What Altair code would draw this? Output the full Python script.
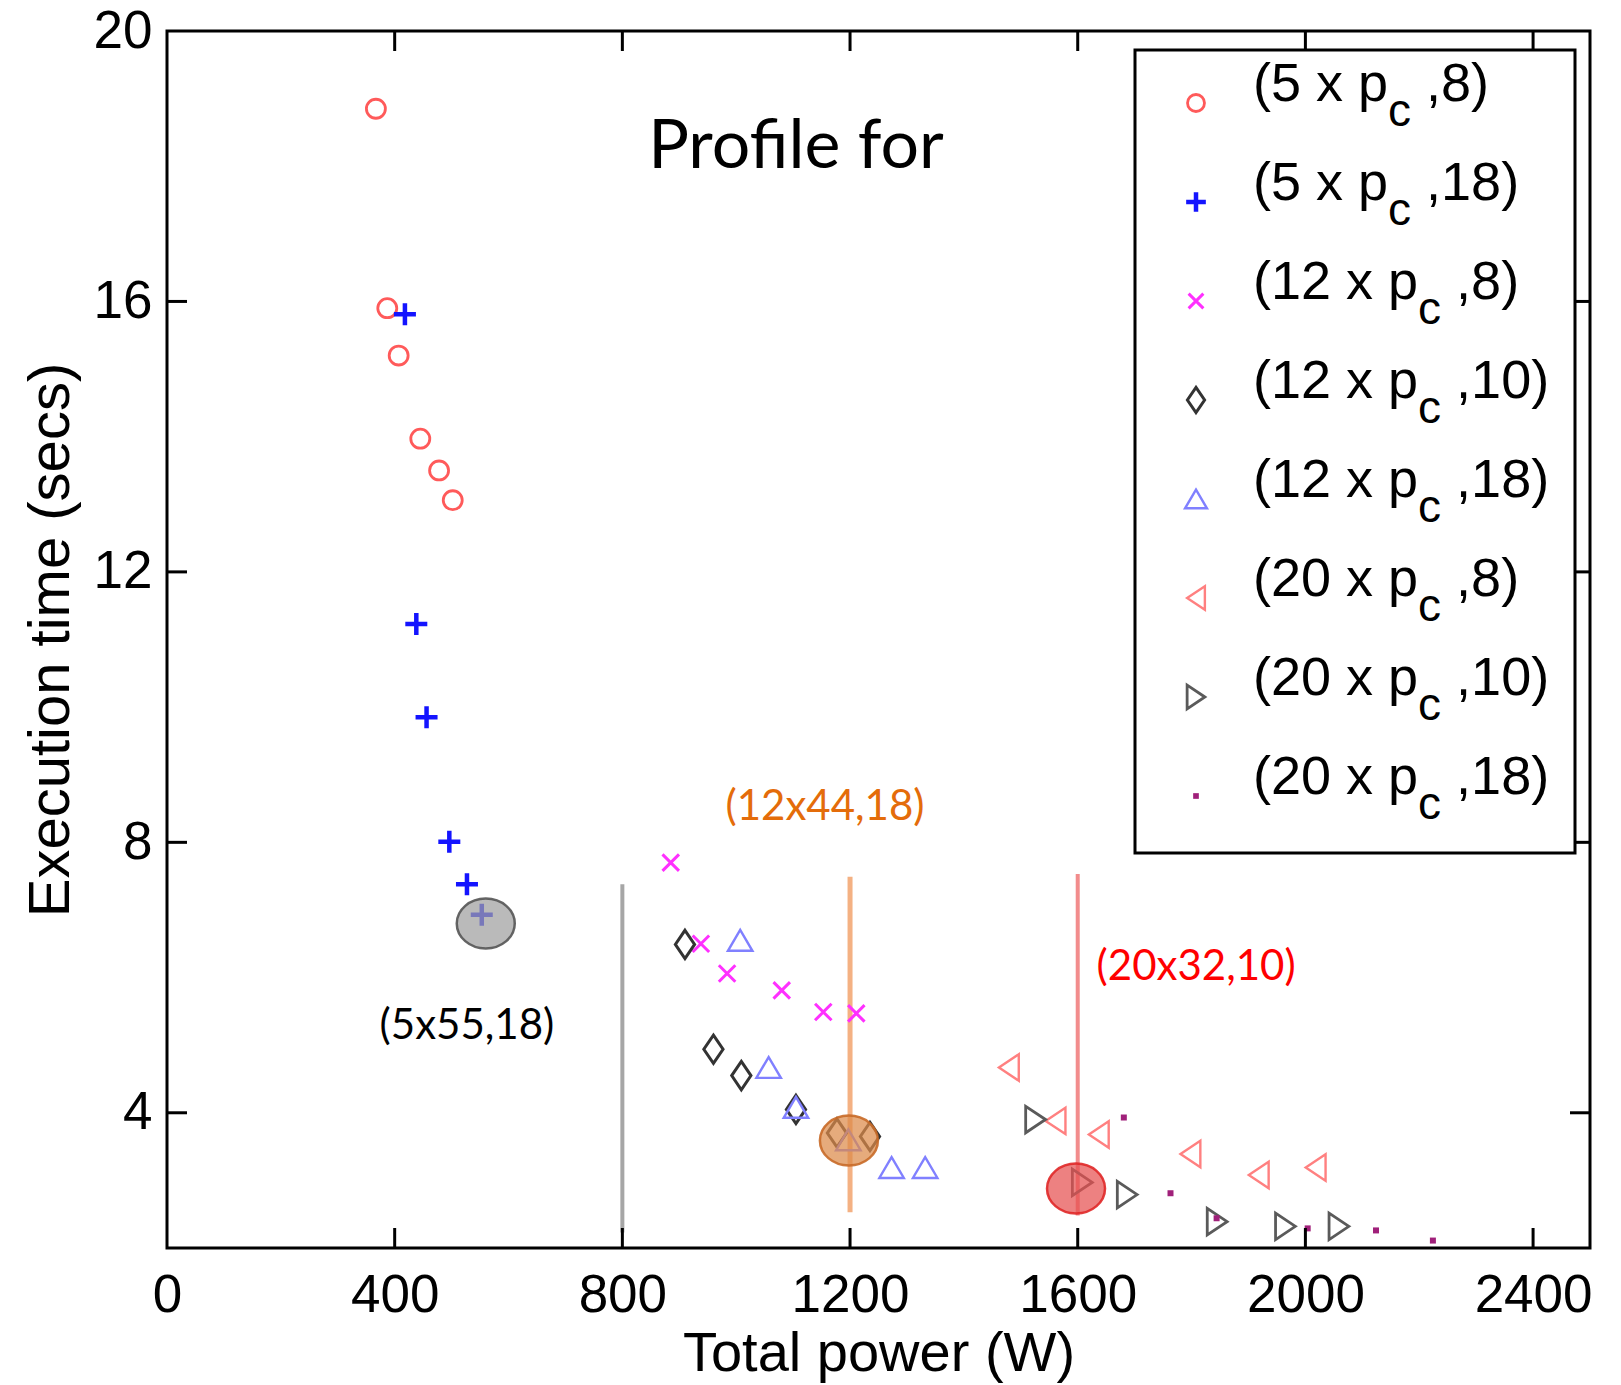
import altair as alt
import pandas as pd

# ---------------- data ----------------
series_keys = ["5x8", "5x18", "12x8", "12x10", "12x18", "20x8", "20x10", "20x18"]
legend_main = ["(5 x p", "(5 x p", "(12 x p", "(12 x p", "(12 x p", "(20 x p", "(20 x p", "(20 x p"]
legend_tail = [",8)", ",18)", ",8)", ",10)", ",18)", ",8)", ",10)", ",18)"]

power = {
    "5x8":   [367, 387, 407, 445, 478, 502],
    "5x18":  [418, 438, 456, 496, 527, 553],
    "12x8":  [885, 938, 984, 1080, 1153, 1211],
    "12x10": [910, 960, 1009, 1105, 1177, 1235],
    "12x18": [1007, 1057, 1105, 1197, 1273, 1332],
    "20x8":  [1479, 1561, 1637, 1798, 1918, 2018],
    "20x10": [1526, 1608, 1687, 1845, 1965, 2059],
    "20x18": [1681, 1763, 1844, 2004, 2124, 2224],
}
exec_time = {
    "5x8":   [18.85, 15.90, 15.20, 13.97, 13.50, 13.06],
    "5x18":  [15.81, 11.23, 9.85, 8.01, 7.38, 6.93],
    "12x8":  [7.70, 6.50, 6.06, 5.81, 5.49, 5.47],
    "12x10": [6.49, 4.94, 4.55, 4.05, 3.70, 3.65],
    "12x18": [6.55, 4.67, 4.08, 3.60, 3.19, 3.19],
    "20x8":  [4.67, 3.88, 3.68, 3.39, 3.08, 3.19],
    "20x10": [3.90, 2.97, 2.79, 2.39, 2.32, 2.32],
    "20x18": [3.93, 2.81, 2.44, 2.29, 2.26, 2.11],
}

x_ticks = [0, 400, 800, 1200, 1600, 2000, 2400]
y_ticks = [4, 8, 12, 16, 20]

marker_lines_x = [800, 1200, 1600]
marker_lines_top = [7.38, 7.49, 7.53]
marker_lines_bottom = [2.23, 2.53, 2.48]

highlight_x = [560, 1198, 1597]
highlight_y = [6.80, 3.59, 2.88]

ann_text = ["Profile for", "(12x44,18)", "(20x32,10)", "(5x55,18)"]
ann_x = [1105, 1156, 1808, 527]
ann_y = [17.97, 8.33, 5.96, 5.09]

# ---------------- styles ----------------
colors = ["#ff5a5a", "#1414ff", "#ff30ff", "#333333", "#8080ff", "#ff8080", "#5a5a5a", "#a0207a"]
shapes = [
    "circle",
    "M-1,0 L1,0 M0,-1 L0,1",
    "M-1,-1 L1,1 M-1,1 L1,-1",
    "M0,-1 L0.68,0 L0,1 L-0.68,0 Z",
    "M0,-0.85 L1,0.85 L-1,0.85 Z",
    "M-0.75,0 L0.75,-1 L0.75,1 Z",
    "M0.75,0 L-0.75,-1 L-0.75,1 Z",
    "M-1,-1 L1,-1 L1,1 L-1,1 Z",
]
sizes = [360, 484, 272, 800, 600, 700, 700, 9]
strokes = [2.8, 4.5, 3.0, 3.0, 2.4, 2.4, 2.8, 3]
size_of = dict(zip(series_keys, sizes))
stroke_of = dict(zip(series_keys, strokes))

line_colors = ["#a6a6a6", "#f4b183", "#f28c8c"]
ell_fill = ["#a0a0a0", "#dd8a4a", "#e65050"]
ell_stroke = ["#555555", "#c86a28", "#e02828"]
ann_colors = ["#000000", "#e46c0a", "#ff0000", "#000000"]
ann_sizes = [68, 42, 42, 42]

W, H = 1423, 1217
X0, X1, Y0, Y1 = 0, 2500, 2, 20
pxx = W / (X1 - X0)
pxy = H / (Y1 - Y0)


def xd(px):
    return X0 + px / pxx


def yd(py):
    return Y1 - py / pxy


LAB = "Liberation Sans"
ANN = "Lato"

# ---------------- tables ----------------
rows = []
for k in series_keys:
    for xv, yv in zip(power[k], exec_time[k]):
        rows.append({"series": k, "power": xv, "time": yv, "sz": size_of[k], "sw": stroke_of[k]})
pts = pd.DataFrame(rows)

shape_enc = alt.Shape("series:N", scale=alt.Scale(domain=series_keys, range=shapes), legend=None)
color_enc = alt.Color("series:N", scale=alt.Scale(domain=series_keys, range=colors), legend=None)
size_enc = alt.Size("sz:Q", scale=None)
sw_enc = alt.StrokeWidth("sw:Q", scale=None)

x_scale = alt.Scale(domain=[X0, X1], nice=False, zero=False)
y_scale = alt.Scale(domain=[Y0, Y1], nice=False, zero=False)

x_enc = alt.X(
    "power:Q", scale=x_scale,
    axis=alt.Axis(
        values=x_ticks, format="d", grid=False, ticks=False, domain=False, tickSize=0,
        labelFont=LAB, labelFontSize=53, labelColor="black", labelPadding=21,
        labelFlush=False, title="Total power (W)", titleFont=LAB, titleFontSize=56,
        titleFontWeight="normal", titleColor="black", titleY=122, titleBaseline="alphabetic",
    ),
)
y_enc = alt.Y(
    "time:Q", scale=y_scale,
    axis=alt.Axis(
        values=y_ticks, format="d", grid=False, ticks=False, domain=False, tickSize=0,
        labelFont=LAB, labelFontSize=53, labelColor="black", labelPadding=15,
        labelFlush=False, title="Execution time (secs)", titleFont=LAB, titleFontSize=58,
        titleFontWeight="normal", titleColor="black", titleX=-99, titleBaseline="alphabetic",
    ),
)

points = alt.Chart(pts).mark_point(filled=False, opacity=1).encode(
    x=x_enc, y=y_enc, shape=shape_enc, color=color_enc, size=size_enc, strokeWidth=sw_enc
)

lines_df = pd.DataFrame({
    "power": marker_lines_x, "time": marker_lines_top, "time2": marker_lines_bottom,
    "c": line_colors, "w": [4, 5, 4],
})
vlines = alt.Chart(lines_df).mark_rule().encode(
    x="power:Q", y="time:Q", y2="time2:Q",
    color=alt.Color("c:N", scale=None), strokeWidth=alt.StrokeWidth("w:Q", scale=None),
)

ell_df = pd.DataFrame({"power": highlight_x, "time": highlight_y, "f": ell_fill, "s": ell_stroke})
ellipses = alt.Chart(ell_df).mark_point(
    shape="M-1,0 A1,0.86 0 1,0 1,0 A1,0.86 0 1,0 -1,0 Z",
    size=3364, filled=True, fillOpacity=0.72, strokeWidth=2.5, strokeOpacity=0.9,
).encode(
    x="power:Q", y="time:Q",
    fill=alt.Fill("f:N", scale=None), stroke=alt.Stroke("s:N", scale=None),
)

ann_df = pd.DataFrame({"power": ann_x, "time": ann_y, "t": ann_text, "c": ann_colors, "fs": ann_sizes})
annotations = alt.Chart(ann_df).mark_text(font=ANN, align="center", baseline="alphabetic").encode(
    x="power:Q", y="time:Q", text="t:N",
    color=alt.Color("c:N", scale=None), size=alt.Size("fs:Q", scale=None),
)

# inward frame ticks
tick_len = 20
tx = [v for v in x_ticks if v > X0]
ty = [v for v in y_ticks if v < Y1]
bt = pd.DataFrame({"power": tx, "time": [Y0] * len(tx), "time2": [Y0 + tick_len / pxy] * len(tx)})
tt = pd.DataFrame({"power": tx, "time": [Y1] * len(tx), "time2": [Y1 - tick_len / pxy] * len(tx)})
lt = pd.DataFrame({"time": ty, "power": [X0] * len(ty), "power2": [X0 + tick_len / pxx] * len(ty)})
rt = pd.DataFrame({"time": ty, "power": [X1] * len(ty), "power2": [X1 - tick_len / pxx] * len(ty)})
vt = alt.Chart(pd.concat([bt, tt])).mark_rule(color="black", strokeWidth=3).encode(
    x="power:Q", y="time:Q", y2="time2:Q")
ht = alt.Chart(pd.concat([lt, rt])).mark_rule(color="black", strokeWidth=3).encode(
    y="time:Q", x="power:Q", x2="power2:Q")

# legend (drawn in plot coordinates)
box_l, box_r, box_t, box_b = 968, 1408, 19, 822
sym_x, txt_x, row0, row_step = 1029, 1086, 72, 99
fs_main, fs_sub = 54, 46
adv = {"(": .333, ")": .333, " ": .278, "x": .5, "p": .556, "c": .5, ",": .278}
for d in "0123456789":
    adv[d] = .556


def width(s, fs):
    return sum(adv.get(ch, .556) for ch in s) * fs


box_df = pd.DataFrame({"power": [xd(box_l)], "power2": [xd(box_r)], "time": [yd(box_t)], "time2": [yd(box_b)]})
legend_box = alt.Chart(box_df).mark_rect(fill="white", stroke="black", strokeWidth=3).encode(
    x="power:Q", x2="power2:Q", y="time:Q", y2="time2:Q")

leg_rows = []
for i, k in enumerate(series_keys):
    ry = row0 + row_step * i
    wm = width(legend_main[i], fs_main)
    leg_rows.append({
        "series": k, "power": xd(sym_x), "time": yd(ry),
        "sz": size_of[k] * 0.8, "sw": stroke_of[k],
        "main": legend_main[i], "mx": xd(txt_x), "my": yd(ry - 2),
        "cx": xd(txt_x + wm), "cy": yd(ry + 23),
        "tail": legend_tail[i], "tx": xd(txt_x + wm + adv["c"] * fs_sub + adv[" "] * fs_main),
    })
leg_df = pd.DataFrame(leg_rows)

legend_syms = alt.Chart(leg_df).mark_point(filled=False, opacity=1).encode(
    x="power:Q", y="time:Q", shape=shape_enc, color=color_enc, size=size_enc, strokeWidth=sw_enc)
leg_main = alt.Chart(leg_df).mark_text(font=LAB, fontSize=fs_main, align="left", baseline="alphabetic", color="black").encode(
    x="mx:Q", y="my:Q", text="main:N")
leg_sub = alt.Chart(leg_df).mark_text(font=LAB, fontSize=fs_sub, align="left", baseline="alphabetic", color="black", text="c").encode(
    x="cx:Q", y="cy:Q")
leg_tail = alt.Chart(leg_df).mark_text(font=LAB, fontSize=fs_main, align="left", baseline="alphabetic", color="black").encode(
    x="tx:Q", y="my:Q", text="tail:N")

chart = alt.layer(
    vlines, points, ellipses, annotations, vt, ht,
    legend_box, legend_syms, leg_main, leg_sub, leg_tail,
).properties(
    width=W, height=H,
    autosize=alt.AutoSizeParams(type="none"),
    padding={"left": 167, "top": 31, "right": 31, "bottom": 137},
    background="white",
).configure_view(stroke="black", strokeWidth=3)

chart.save("out.html", embed_options={"renderer": "svg", "actions": False})
